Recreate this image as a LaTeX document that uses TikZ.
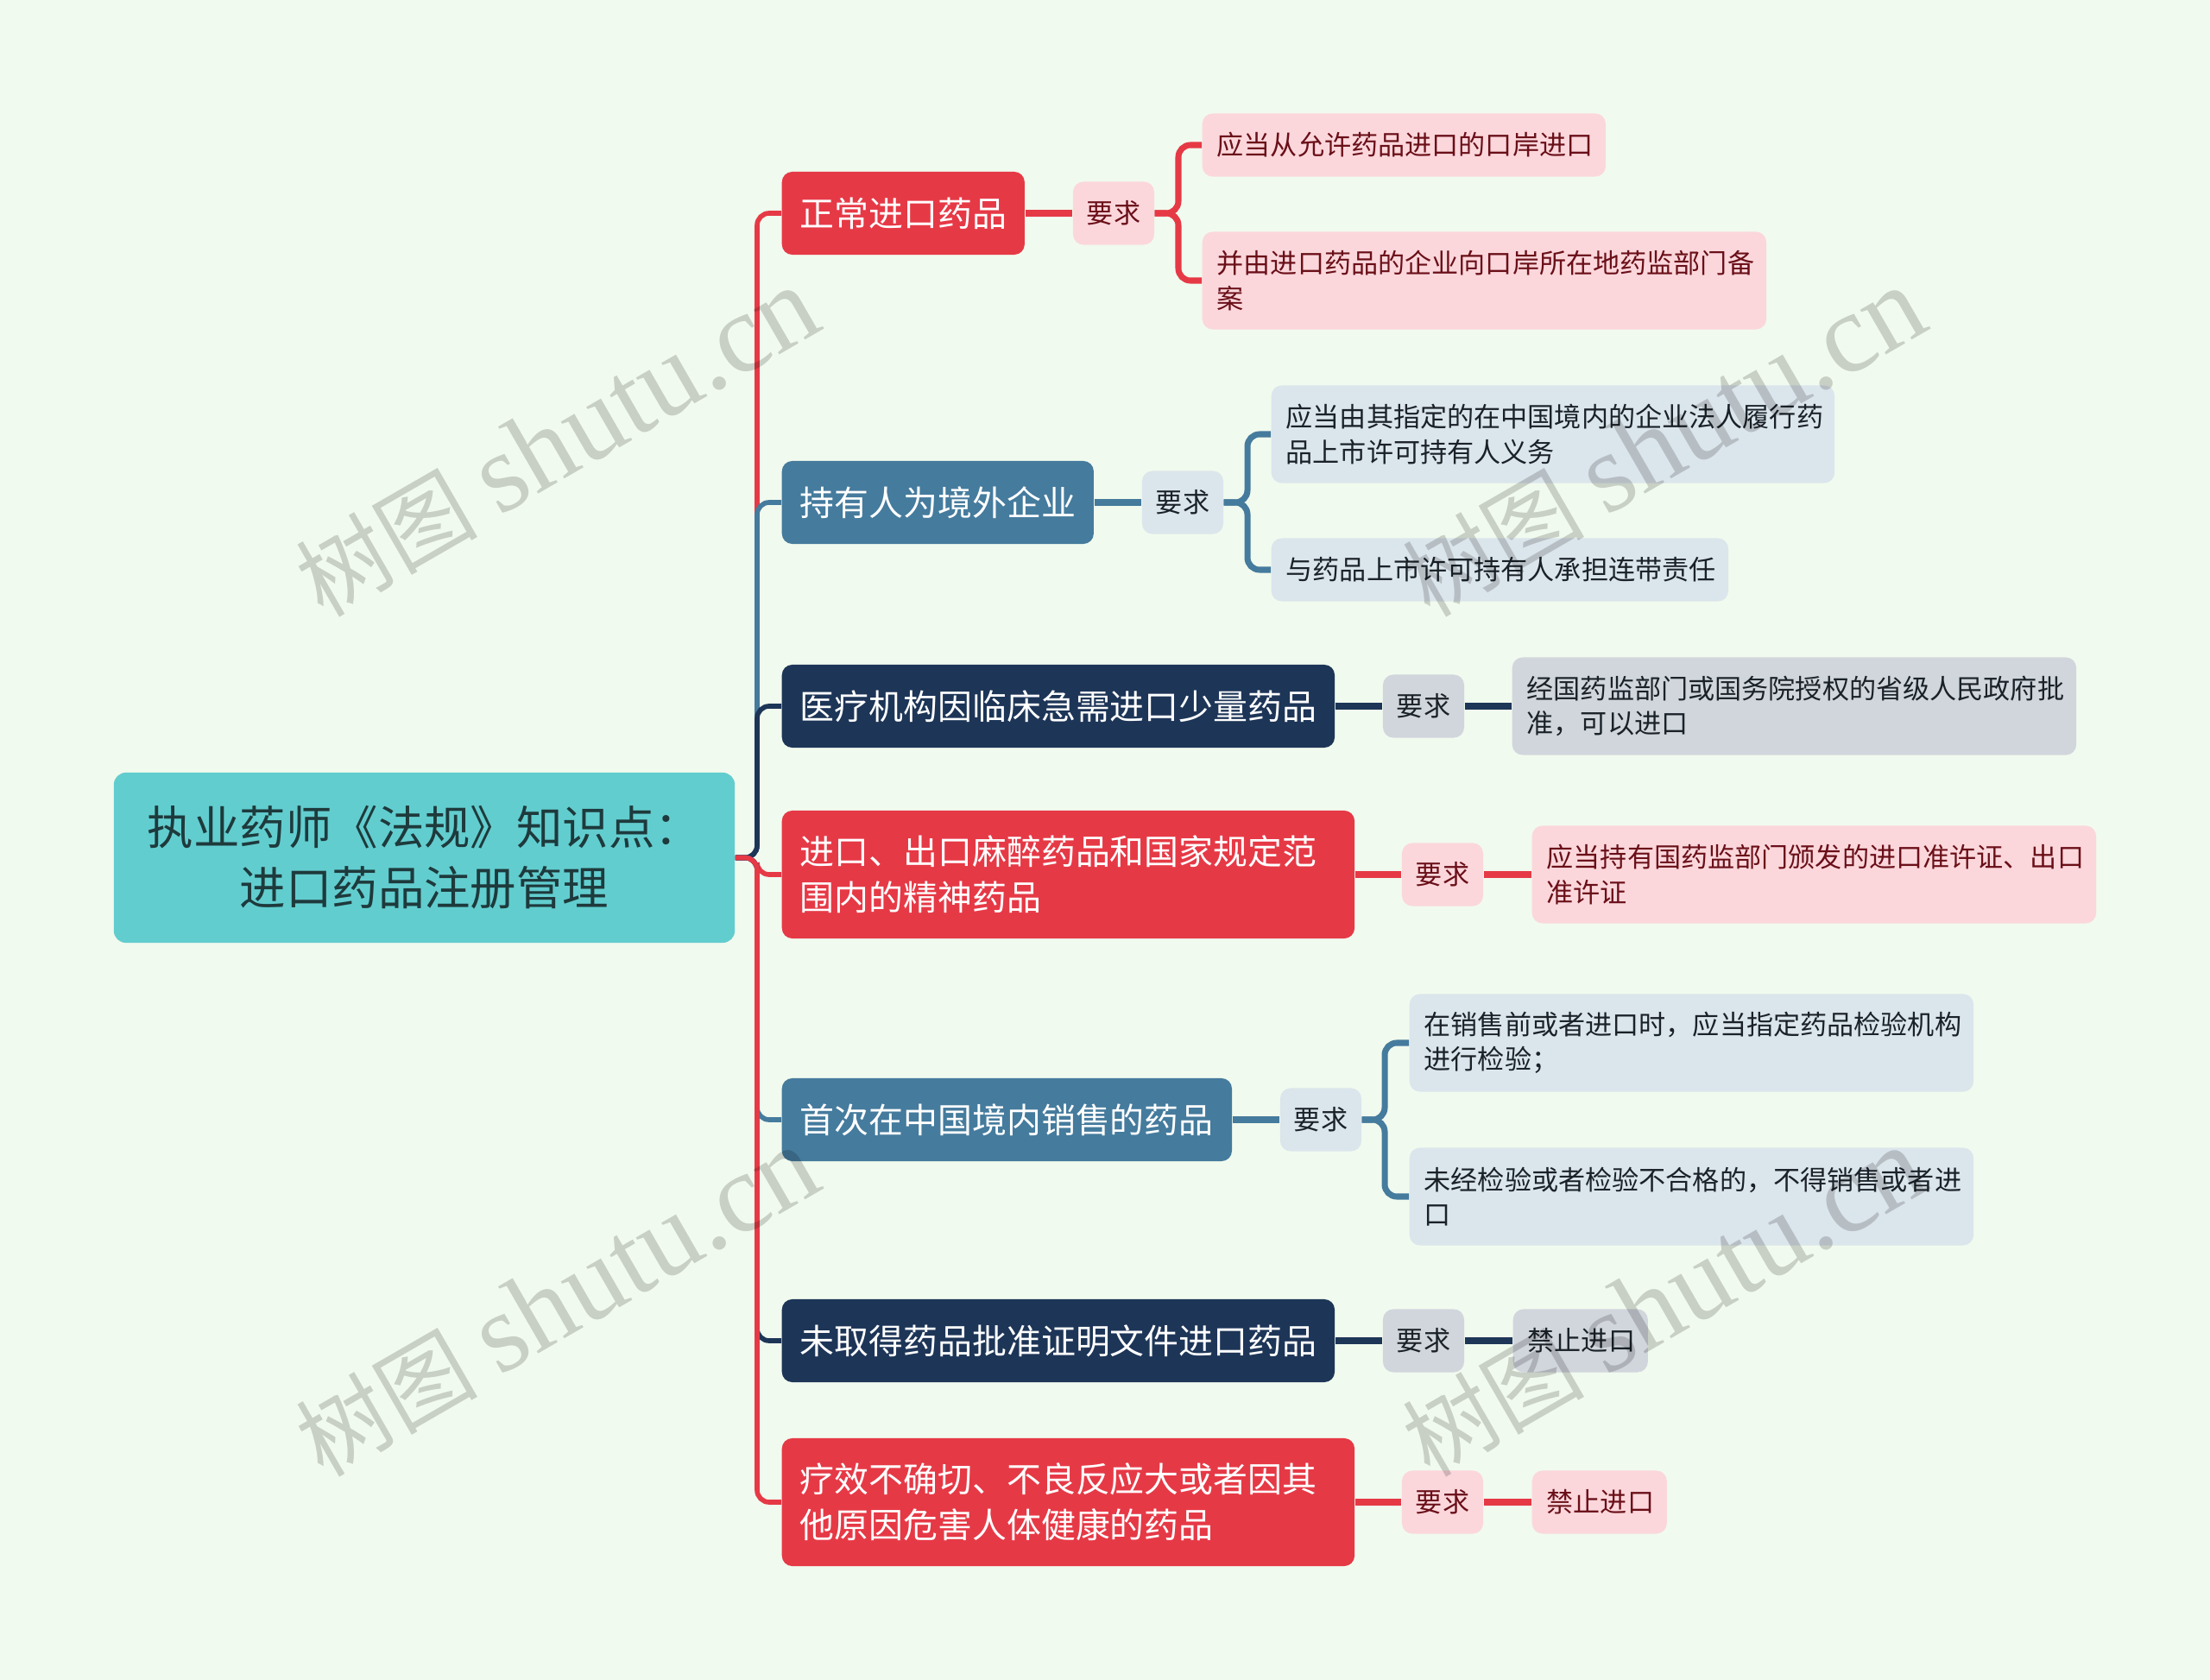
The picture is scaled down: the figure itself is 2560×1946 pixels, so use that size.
\documentclass[tikz,border=0pt]{standalone}
\usepackage{fontspec}
\setmainfont{Noto Sans CJK SC}
\newfontfamily\markfont{Liberation Serif}
\definecolor{paper}{HTML}{F1FAEE}
\definecolor{rootfill}{HTML}{62CDCF}
\definecolor{roottext}{HTML}{1E3A3C}
\definecolor{redmain}{HTML}{E63946}
\definecolor{redtint}{HTML}{FBD7DC}
\definecolor{redtext}{HTML}{6A0F18}
\definecolor{bluemain}{HTML}{457B9D}
\definecolor{bluetint}{HTML}{DBE5EC}
\definecolor{navymain}{HTML}{1D3557}
\definecolor{navytint}{HTML}{D1D6DD}
\definecolor{darktext}{HTML}{1A2228}
\tikzset{
  rootbox/.style={fill=rootfill,text=roottext,rounded corners=.14cm,align=center,inner sep=0pt,
    minimum width=7.19cm,minimum height=1.97cm,font=\fontsize{15.2}{19.9}\selectfont},
  topicbox/.style={anchor=west,text=white,rounded corners=.12cm,align=left,inner xsep=.21cm,inner ysep=0pt,
    font=\fontsize{11.35}{15.1}\selectfont},
  onerow/.style={minimum height=.96cm},
  tworow/.style={minimum height=1.48cm},
  reqbox/.style={rounded corners=.12cm,inner sep=0pt,minimum width=.94cm,minimum height=.73cm,
    font=\fontsize{8.85}{11.5}\selectfont},
  leafbox/.style={anchor=west,rounded corners=.12cm,align=left,inner xsep=.17cm,inner ysep=0pt,
    font=\fontsize{8.85}{11.5}\selectfont},
  shortleaf/.style={minimum height=.73cm},
  tallleaf/.style={minimum height=1.13cm},
  redreq/.style={fill=redtint,text=redtext},
  bluereq/.style={fill=bluetint,text=darktext},
  navyreq/.style={fill=navytint,text=darktext},
  link/.style={line width=1.6pt,rounded corners=.14cm},
  sublink/.style={line width=2pt,rounded corners=.14cm},
  markbox/.style={rotate=30,text=black,opacity=.17,inner sep=0pt}
}
\newcommand{\marktext}{\fontsize{30}{30}\selectfont 树图\hspace{7pt}\markfont\fontsize{37}{37}\selectfont shutu.cn}
\begin{document}
\begin{tikzpicture}
\begin{scope}[x=.01cm,y=-.01cm]
\fill[paper] (0,0) rectangle (2560,1946);

% root
\node[rootbox] (root) at (491.5,993.5) {执业药师《法规》知识点：\\进口药品注册管理};
\coordinate (hub) at (877,993.5);

% topics
\node[topicbox,onerow,fill=redmain,text width=2.39cm] (t1) at (905,247) {正常进口药品};
\node[topicbox,onerow,fill=bluemain,text width=3.19cm] (t2) at (905,582) {持有人为境外企业};
\node[topicbox,onerow,fill=navymain,text width=5.98cm] (t3) at (905,818) {医疗机构因临床急需进口少量药品};
\node[topicbox,tworow,fill=redmain,text width=6.21cm] (t4) at (905,1013) {进口、出口麻醉药品和国家规定范\\围内的精神药品};
\node[topicbox,onerow,fill=bluemain,text width=4.79cm] (t5) at (905,1297) {首次在中国境内销售的药品};
\node[topicbox,onerow,fill=navymain,text width=5.98cm] (t6) at (905,1553) {未取得药品批准证明文件进口药品};
\node[topicbox,tworow,fill=redmain,text width=6.21cm] (t7) at (905,1740) {疗效不确切、不良反应大或者因其\\他原因危害人体健康的药品};

% requirement tags
\node[reqbox,redreq] (r1) at (1290,247) {要求};
\node[reqbox,bluereq] (r2) at (1370,582) {要求};
\node[reqbox,navyreq] (r3) at (1649,818) {要求};
\node[reqbox,redreq] (r4) at (1671,1013) {要求};
\node[reqbox,bluereq] (r5) at (1530,1297) {要求};
\node[reqbox,navyreq] (r6) at (1649,1553) {要求};
\node[reqbox,redreq] (r7) at (1671,1740) {要求};

% leaves
\node[leafbox,shortleaf,redreq,text width=4.33cm] (a1) at (1392,168) {应当从允许药品进口的口岸进口};
\node[leafbox,tallleaf,redreq,text width=6.19cm] (b1) at (1392,325) {并由进口药品的企业向口岸所在地药监部门备\\案};
\node[leafbox,tallleaf,bluereq,text width=6.18cm] (a2) at (1472,503) {应当由其指定的在中国境内的企业法人履行药\\品上市许可持有人义务};
\node[leafbox,shortleaf,bluereq,text width=4.95cm] (b2) at (1472,660) {与药品上市许可持有人承担连带责任};
\node[leafbox,tallleaf,navyreq,text width=6.19cm] (a3) at (1751,818) {经国药监部门或国务院授权的省级人民政府批\\准，可以进口};
\node[leafbox,tallleaf,redreq,text width=6.19cm] (a4) at (1774,1013) {应当持有国药监部门颁发的进口准许证、出口\\准许证};
\node[leafbox,tallleaf,bluereq,text width=6.19cm] (a5) at (1632,1208) {在销售前或者进口时，应当指定药品检验机构\\进行检验；};
\node[leafbox,tallleaf,bluereq,text width=6.19cm] (b5) at (1632,1386) {未经检验或者检验不合格的，不得销售或者进\\口};
\node[leafbox,shortleaf,navyreq,text width=1.22cm] (a6) at (1752,1553) {禁止进口};
\node[leafbox,shortleaf,redreq,text width=1.22cm] (a7) at (1774,1740) {禁止进口};

% forks
\coordinate (fork1) at (1365,247);
\coordinate (fork2) at (1445,582);
\coordinate (fork5) at (1604,1297);

% root to topics
\draw[link,redmain] (root.east) -- (hub) |- (t1.west);
\draw[link,bluemain] (root.east) -- (hub) |- (t2.west);
\draw[link,navymain] (root.east) -- (hub) |- (t3.west);
\draw[link,redmain] (root.east) -- (hub) |- (t4.west);
\draw[link,bluemain] (root.east) -- (hub) |- (t5.west);
\draw[link,navymain] (root.east) -- (hub) |- (t6.west);
\draw[link,redmain] (root.east) -- (hub) |- (t7.west);

% topics to tags
\draw[sublink,redmain] (t1.east) -- (r1.west);
\draw[sublink,bluemain] (t2.east) -- (r2.west);
\draw[sublink,navymain] (t3.east) -- (r3.west);
\draw[sublink,redmain] (t4.east) -- (r4.west);
\draw[sublink,bluemain] (t5.east) -- (r5.west);
\draw[sublink,navymain] (t6.east) -- (r6.west);
\draw[sublink,redmain] (t7.east) -- (r7.west);

% tags to leaves
\draw[sublink,redmain] (r1.east) -- (fork1) |- (a1.west);
\draw[sublink,redmain] (r1.east) -- (fork1) |- (b1.west);
\draw[sublink,bluemain] (r2.east) -- (fork2) |- (a2.west);
\draw[sublink,bluemain] (r2.east) -- (fork2) |- (b2.west);
\draw[sublink,navymain] (r3.east) -- (a3.west);
\draw[sublink,redmain] (r4.east) -- (a4.west);
\draw[sublink,bluemain] (r5.east) -- (fork5) |- (a5.west);
\draw[sublink,bluemain] (r5.east) -- (fork5) |- (b5.west);
\draw[sublink,navymain] (r6.east) -- (a6.west);
\draw[sublink,redmain] (r7.east) -- (a7.west);

% watermark
\node[markbox] (m1) at (645,513) {\marktext};
\node[markbox] (m2) at (1927,513) {\marktext};
\node[markbox] (m3) at (645,1509) {\marktext};
\node[markbox] (m4) at (1927,1509) {\marktext};

\end{scope}
\end{tikzpicture}
\end{document}
